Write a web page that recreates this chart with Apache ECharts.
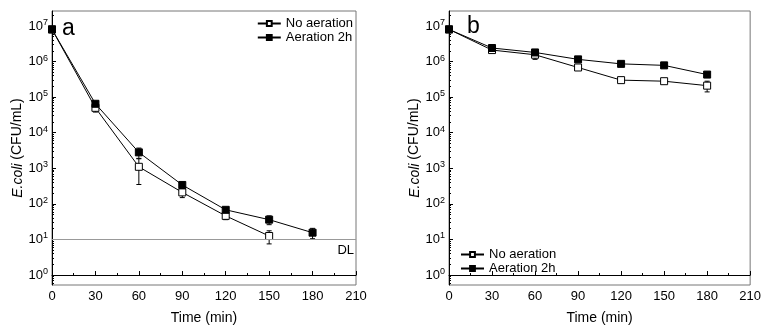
<!DOCTYPE html>
<html>
<head>
<meta charset="utf-8">
<script src="https://cdn.jsdelivr.net/npm/echarts@6/dist/echarts.min.js"></script>
<style>
  html, body { margin: 0; padding: 0; background: #fff; }
  #chart { width: 764px; height: 330px; }
</style>
</head>
<body>
<div id="chart"></div>
<script>
// sampling times (min)
const TIMES = [0, 30, 60, 90, 120, 150, 180];

// panel a: E.coli (CFU/mL), open = no aeration, filled = aeration 2h
const A_NO_AER = [8e6, 5e4, 1.1e3, 210, 46, 12.5];
const A_NO_AER_SD = [0, 1.2e4, 750, 60, 10, 5];
const A_AER = [8e6, 6.5e4, 2.8e3, 340, 68, 36, 15.5];
const A_AER_SD = [0, 5e3, 900, 40, 8, 10, 5];

// panel b
const B_NO_AER = [8e6, 2.1e6, 1.55e6, 6.8e5, 3.0e5, 2.8e5, 2.1e5];
const B_NO_AER_SD = [0, 3e5, 4e5, 1.2e5, 3e4, 3e4, 7e4];
const B_AER = [8e6, 2.4e6, 1.8e6, 1.15e6, 8.6e5, 7.8e5, 4.3e5];
const B_AER_SD = [0, 3e5, 3e5, 1e5, 5e4, 5e4, 5e4];

const DETECTION_LIMIT = 10;
const X_TICKS = [0, 30, 60, 90, 120, 150, 180, 210];
const Y_DECADES = [0, 1, 2, 3, 4, 5, 6, 7];

const FONT = 'Liberation Sans, Arial, sans-serif';
const LOG_MIN = -0.28, LOG_MAX = 7.42;

// minor log ticks (2..9 x 10^n)
const minorTicks = [];
for (let n = -1; n <= 7; n++) {
  for (let k = 2; k <= 9; k++) {
    const v = Math.log10(k) + n;
    if (v > LOG_MIN && v < LOG_MAX) minorTicks.push(v);
  }
}

const toPts = (vals) => vals.map((v, i) => [TIMES[i], Math.log10(v)]);
const toErr = (vals, sd) => vals
  .map((v, i) => [TIMES[i], Math.log10(v - sd[i]), Math.log10(v + sd[i]), sd[i]])
  .filter(d => d[3] > 0);

function errRender(params, api) {
  const x = api.value(0);
  const p1 = api.coord([x, api.value(1)]);
  const p2 = api.coord([x, api.value(2)]);
  const w = 2.5;
  const st = { stroke: '#000', lineWidth: 1 };
  return {
    type: 'group',
    children: [
      { type: 'line', shape: { x1: p1[0], y1: p1[1], x2: p2[0], y2: p2[1] }, style: st },
      { type: 'line', shape: { x1: p1[0] - w, y1: p1[1], x2: p1[0] + w, y2: p1[1] }, style: st },
      { type: 'line', shape: { x1: p2[0] - w, y1: p2[1], x2: p2[0] + w, y2: p2[1] }, style: st },
    ],
  };
}

function xAxis(gridIndex) {
  return {
    type: 'value', gridIndex, min: 0, max: 210, interval: 30,
    name: 'Time (min)', nameLocation: 'middle', nameGap: 26,
    nameTextStyle: { fontFamily: FONT, fontSize: 14, color: '#000' },
    axisLine: { lineStyle: { color: '#000', width: 1 } },
    axisTick: { inside: true, length: 4, lineStyle: { color: '#000' } },
    minorTick: { show: true, splitNumber: 2, length: 2, lineStyle: { color: '#000' } },
    axisLabel: { fontFamily: FONT, fontSize: 13, color: '#000', margin: 5, customValues: X_TICKS },
    splitLine: { show: false },
  };
}

function yAxisMajor(gridIndex) {
  return {
    type: 'value', gridIndex, position: 'left', min: LOG_MIN, max: LOG_MAX,
    name: '{i|E.coli} (CFU/mL)', nameLocation: 'middle', nameGap: 27, nameRotate: 90,
    nameTextStyle: {
      fontFamily: FONT, fontSize: 14, color: '#000',
      rich: { i: { fontFamily: FONT, fontSize: 14, fontStyle: 'italic', color: '#000' } },
    },
    axisLine: { lineStyle: { color: '#000', width: 1 } },
    axisTick: { inside: true, length: 4, customValues: Y_DECADES, lineStyle: { color: '#000' } },
    axisLabel: {
      customValues: Y_DECADES, margin: 4,
      formatter: (v) => '{b|10}{s|' + Math.round(v) + '}',
      rich: {
        b: { fontFamily: FONT, fontSize: 13, color: '#000', lineHeight: 16 },
        s: { fontFamily: FONT, fontSize: 9, color: '#000', verticalAlign: 'top', lineHeight: 16, padding: [0, 0, 6, 0] },
      },
    },
    splitLine: { show: false },
  };
}

function yAxisMinor(gridIndex) {
  return {
    type: 'value', gridIndex, position: 'left', min: LOG_MIN, max: LOG_MAX,
    axisLine: { show: false },
    axisTick: { inside: true, length: 2, customValues: minorTicks, lineStyle: { color: '#000' } },
    axisLabel: { show: false },
    splitLine: { show: false },
  };
}

function lineSeries(name, vals, filled, xi, yi, extra) {
  return Object.assign({
    name, type: 'line', xAxisIndex: xi, yAxisIndex: yi,
    data: toPts(vals), symbol: 'rect', symbolSize: 7, showAllSymbol: true,
    lineStyle: { color: '#000', width: 1 },
    itemStyle: { color: filled ? '#000' : '#fff', borderColor: '#000', borderWidth: 1 },
    z: 3, animation: false,
  }, extra || {});
}

function errSeries(vals, sd, xi, yi) {
  return {
    type: 'custom', xAxisIndex: xi, yAxisIndex: yi,
    data: toErr(vals, sd), renderItem: errRender, z: 2, animation: false, silent: true,
  };
}

const legendBase = {
  orient: 'vertical', itemWidth: 23, itemHeight: 6, padding: 0, itemGap: 1,
  textStyle: { fontFamily: FONT, fontSize: 13, color: '#000' },
  data: ['No aeration', 'Aeration 2h'],
};

const chart = echarts.init(document.getElementById('chart'));
chart.setOption({
  backgroundColor: '#fff',
  animation: false,
  grid: [
    { left: 52, top: 11, width: 304, height: 277, show: true, borderColor: '#777', borderWidth: 1, backgroundColor: 'transparent' },
    { left: 449, top: 11, width: 303, height: 277, show: true, borderColor: '#777', borderWidth: 1, backgroundColor: 'transparent' },
  ],
  xAxis: [xAxis(0), xAxis(1)],
  yAxis: [yAxisMajor(0), yAxisMinor(0), yAxisMajor(1), yAxisMinor(1)],
  legend: [
    Object.assign({}, legendBase, { right: 411, top: 17 }),
    Object.assign({}, legendBase, { left: 460, top: 248 }),
  ],
  graphic: [
    { type: 'text', left: 62, top: 17, style: { text: 'a', font: '23px ' + FONT, fill: '#000' } },
    { type: 'text', left: 467, top: 15, style: { text: 'b', font: '23px ' + FONT, fill: '#000' } },
  ],
  series: [
    errSeries(A_NO_AER, A_NO_AER_SD, 0, 0),
    errSeries(A_AER, A_AER_SD, 0, 0),
    lineSeries('No aeration', A_NO_AER, false, 0, 0),
    lineSeries('Aeration 2h', A_AER, true, 0, 0, {
      markLine: {
        silent: true, symbol: 'none',
        lineStyle: { color: '#999', width: 1, type: 'solid' },
        label: { show: true, position: 'insideEndBottom', formatter: 'DL', fontFamily: FONT, fontSize: 13, color: '#000', distance: [2, 4] },
        data: [{ yAxis: Math.log10(DETECTION_LIMIT) }],
      },
    }),
    errSeries(B_NO_AER, B_NO_AER_SD, 1, 2),
    errSeries(B_AER, B_AER_SD, 1, 2),
    lineSeries('No aeration', B_NO_AER, false, 1, 2),
    lineSeries('Aeration 2h', B_AER, true, 1, 2),
  ],
});
</script>
</body>
</html>
